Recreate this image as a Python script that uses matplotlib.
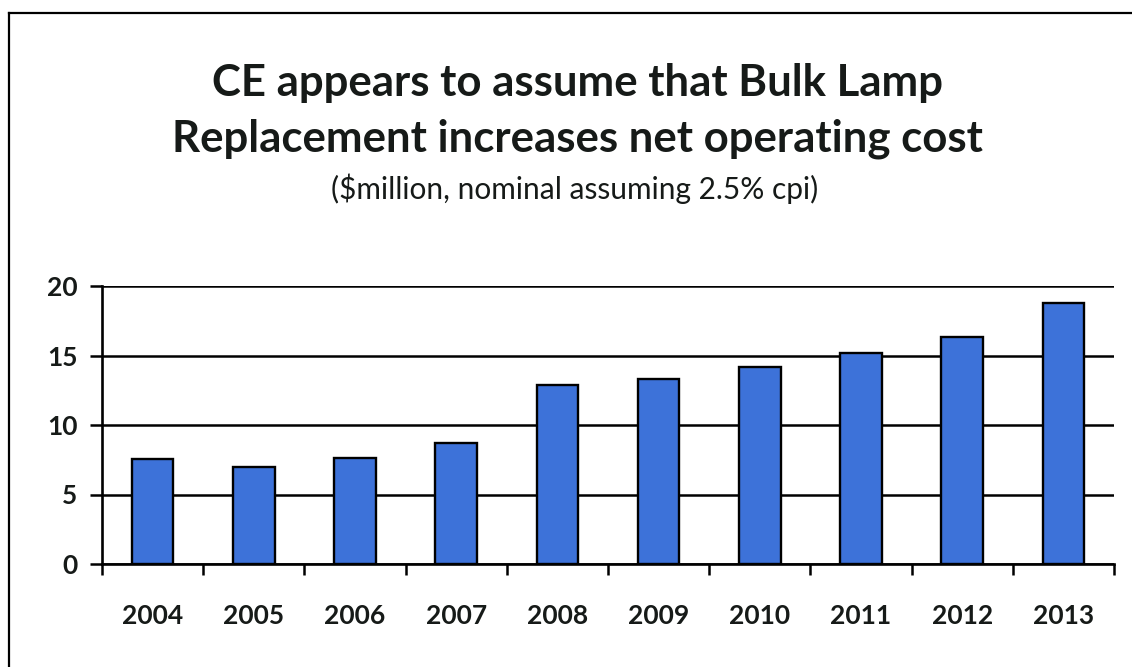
import matplotlib
matplotlib.use("Agg")
import matplotlib.pyplot as plt
from matplotlib.lines import Line2D

years = ["2004", "2005", "2006", "2007", "2008", "2009", "2010", "2011", "2012", "2013"]
values = [7.55, 7.0, 7.6, 8.7, 12.9, 13.3, 14.2, 15.2, 16.3, 18.8]
yticks = [0, 5, 10, 15, 20]

title1 = "CE appears to assume that Bulk Lamp"
title2 = "Replacement increases net operating cost"
subtitle = "($million, nominal assuming 2.5% cpi)"

W, H = 1132, 667
fig = plt.figure(figsize=(W / 100, H / 100), dpi=100)
fig.patch.set_facecolor("white")

# scanned frame: top and left border lines
fig.add_artist(Line2D([9 / W, 1.0], [1 - 13 / H, 1 - 13 / H], color="black", lw=1.6, transform=fig.transFigure))
fig.add_artist(Line2D([9 / W, 9 / W], [0.0, 1 - 13 / H], color="black", lw=1.6, transform=fig.transFigure))

fam = "Lato"
tc = "#161a18"
fig.text(577 / W, 1 - 83 / H, title1, ha="center", va="center", fontsize=31.5, fontweight="bold", family=fam, color=tc)
fig.text(577 / W, 1 - 139 / H, title2, ha="center", va="center", fontsize=31.5, fontweight="bold", family=fam, color=tc)
fig.text(575 / W, 1 - 189 / H, subtitle, ha="center", va="center", fontsize=21.5, family=fam, color=tc)

left, right, top, bottom = 102, 1114, 286, 564
ax = fig.add_axes([left / W, 1 - bottom / H, (right - left) / W, (bottom - top) / H])
x = list(range(len(years)))
ax.set_axisbelow(True)
ax.bar(x, values, width=0.41, color="#3d72d9", edgecolor="black", linewidth=1.7, zorder=3)
ax.set_xlim(-0.5, len(years) - 0.5)
ax.set_ylim(0, 20)
ax.set_yticks(yticks)
ax.set_yticklabels([str(v) for v in yticks])
ax.yaxis.grid(True, color="black", lw=1.8)
ax.set_xticks(x)
ax.set_xticklabels(years)
ax.tick_params(axis="x", length=0, pad=29, labelsize=19, labelcolor=tc)
ax.set_xticks([i - 0.5 for i in range(len(years) + 1)], minor=True)
ax.tick_params(axis="x", which="minor", length=8, width=1.8, direction="out", color="black")
ax.tick_params(axis="y", length=8.6, width=1.8, direction="out", color="black", pad=9, labelsize=19, labelcolor=tc)
for lab in ax.get_xticklabels() + ax.get_yticklabels():
    lab.set_fontweight("bold")
    lab.set_family(fam)
for s in ["top", "right"]:
    ax.spines[s].set_visible(False)
for s in ["left", "bottom"]:
    ax.spines[s].set_linewidth(1.9)
    ax.spines[s].set_color("black")

fig.savefig("out.png", dpi=100)
